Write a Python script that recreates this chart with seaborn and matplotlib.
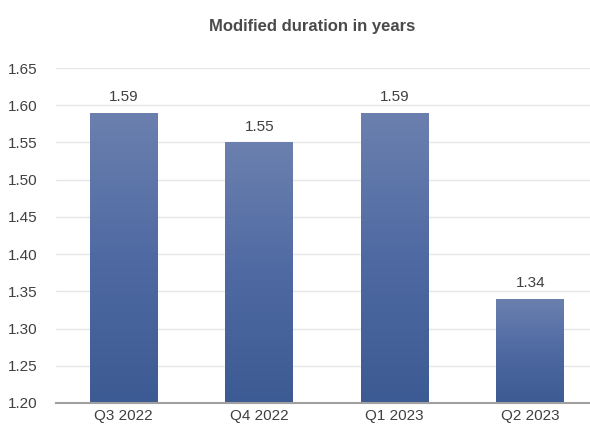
import numpy as np
import pandas as pd
import matplotlib
matplotlib.use("Agg")
import matplotlib.pyplot as plt
import seaborn as sns
from matplotlib.colors import LinearSegmentedColormap

categories = ["Q3 2022", "Q4 2022", "Q1 2023", "Q2 2023"]
values = [1.59, 1.55, 1.59, 1.34]
labels = ["1.59", "1.55", "1.59", "1.34"]
yticks = [1.20, 1.25, 1.30, 1.35, 1.40, 1.45, 1.50, 1.55, 1.60, 1.65]

sns.set_theme(style="white")
plt.rcParams["font.family"] = ["Liberation Sans", "DejaVu Sans"]

df = pd.DataFrame({"quarter": categories, "value": values})

fig = plt.figure(figsize=(5.9, 4.25), dpi=100)
ax = fig.add_axes([56 / 590, (425 - 403) / 425, (598 - 56) / 590, (403 - 68) / 425])

sns.barplot(data=df, x="quarter", y="value", color="#4f6aa3", width=0.5, ax=ax,
            saturation=1, zorder=2)

ax.set_ylim(1.20, 1.65)
ax.set_xlim(-0.5, 3.5)
ax.set_yticks(yticks)
ax.set_yticklabels([f"{t:.2f}" for t in yticks])
ax.set_xlabel("")
ax.set_ylabel("")

cmap = LinearSegmentedColormap.from_list("g", ["#3c5a93", "#4f6aa3", "#6b80ae"])
grad = np.linspace(0, 1, 256).reshape(-1, 1)
for p in list(ax.patches):
    x0, y0 = p.get_x(), 1.20
    w, h = p.get_width(), p.get_height()
    im = ax.imshow(grad, cmap=cmap, origin="lower", aspect="auto",
                   extent=[x0, x0 + w, y0, p.get_y() + h], zorder=3)
    im.set_clip_path(p)
    p.set_edgecolor("none")

for i, (v, lab) in enumerate(zip(values, labels)):
    ax.text(i, v + 0.012, lab, ha="center", va="bottom", fontsize=11, color="#404040", zorder=4)

ax.yaxis.grid(True, color="#e6e6e6", linewidth=1, zorder=0)
ax.set_axisbelow(True)
for s in ["top", "right", "left"]:
    ax.spines[s].set_visible(False)
ax.spines["bottom"].set_color("#a0a0a0")
ax.spines["bottom"].set_linewidth(1.5)
ax.spines["bottom"].set_zorder(5)
ax.tick_params(axis="both", length=0, labelsize=11, labelcolor="#404040")
ax.tick_params(axis="y", pad=13)
ax.tick_params(axis="x", pad=4)

fig.text(312 / 590, 1 - 26 / 425, "Modified duration in years", ha="center", va="center",
         fontsize=12, fontweight="bold", color="#4a4a4a")

fig.savefig("out.png", dpi=100)
